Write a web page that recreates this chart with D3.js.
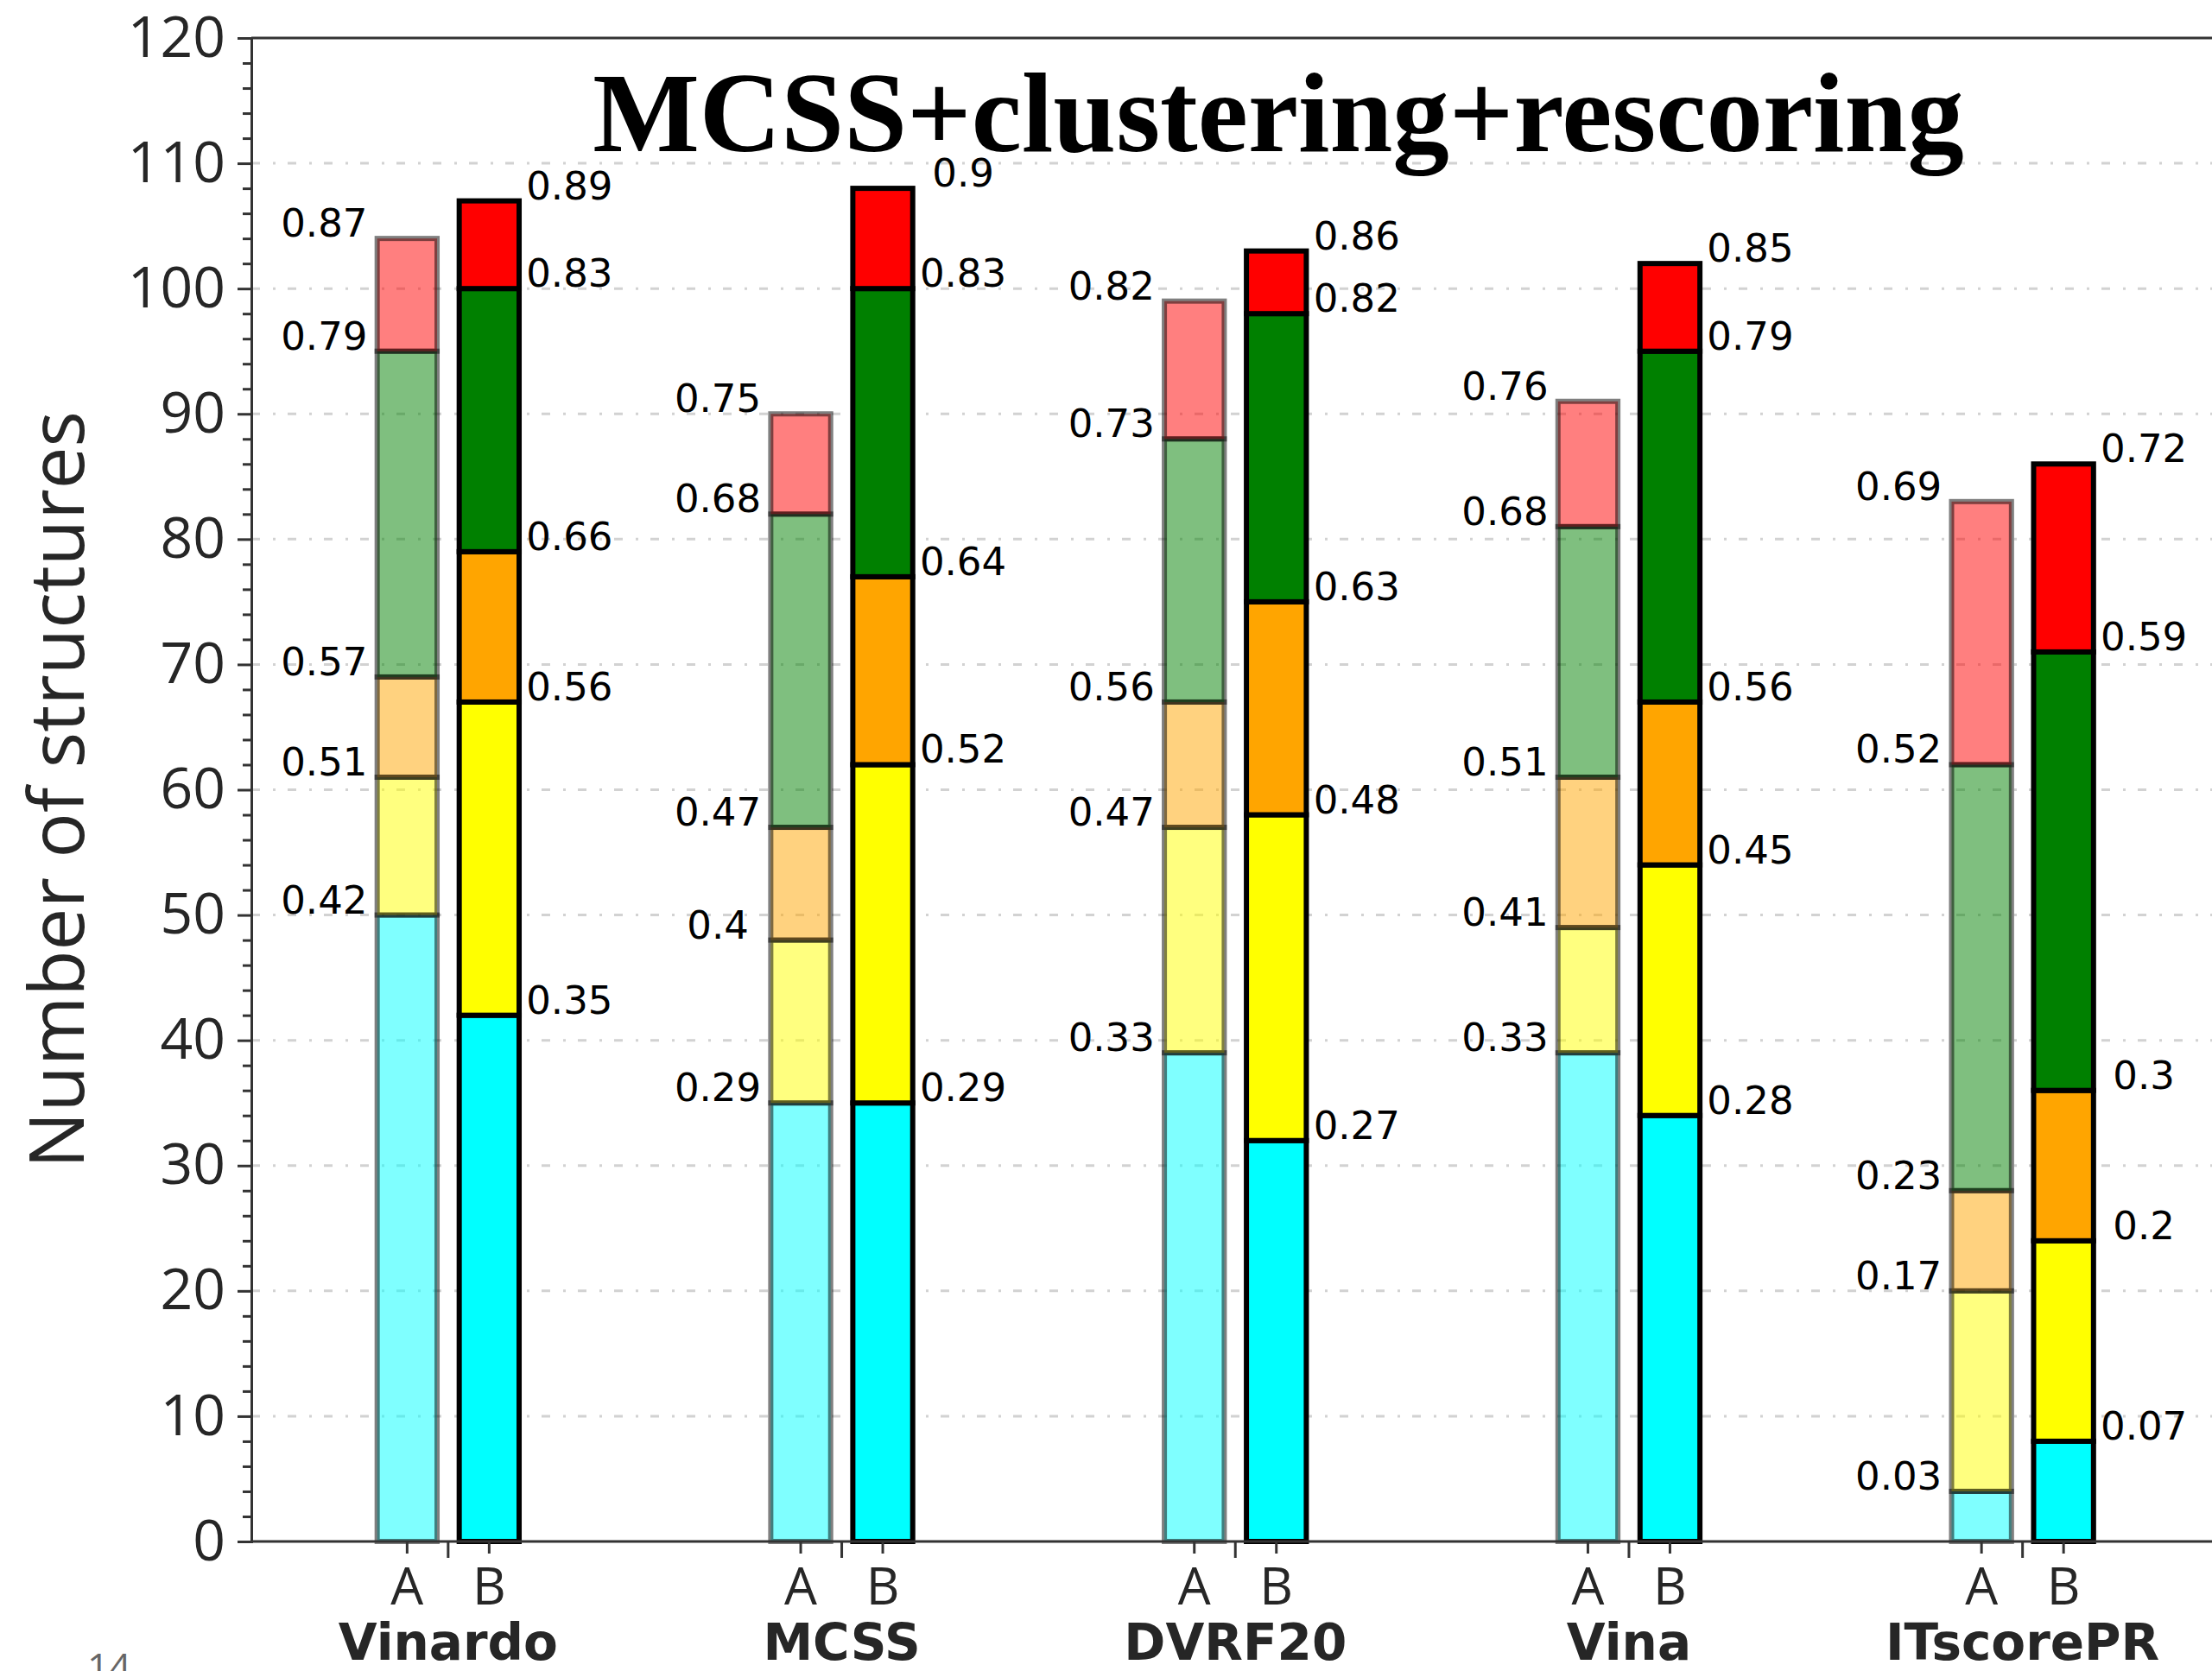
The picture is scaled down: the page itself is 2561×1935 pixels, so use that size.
<!DOCTYPE html>
<html>
<head>
<meta charset="utf-8">
<script src="https://cdn.jsdelivr.net/npm/d3@7"></script>
<style>
  body { margin: 0; background: #fff; }
  svg { display: block; }
</style>
</head>
<body>
<div id="chart"></div>
<script>
// scoring methods and the two variants
var methods = ["Vinardo", "MCSS", "DVRF20", "Vina", "ITscorePR"];
var versions = ["A", "B"];
var bands = ["cyan", "yellow", "orange", "green", "red"];
var totalTargets = 120;

// structures in each band, one value per method
var cyanA   = [50, 35, 39, 39, 4];
var yellowA = [11, 13, 18, 10, 16];
var orangeA = [8, 9, 10, 12, 8];
var greenA  = [26, 25, 21, 20, 34];
var redA    = [9, 8, 11, 10, 21];

var cyanB   = [42, 35, 32, 34, 8];
var yellowB = [25, 27, 26, 20, 16];
var orangeB = [12, 15, 17, 13, 12];
var greenB  = [21, 23, 23, 28, 35];
var redB    = [7, 8, 5, 7, 15];

var yTicks = d3.range(0, 121, 10);
var yMinor = d3.range(0, 121, 2).filter((d) => d % 10 !== 0);

var colors = { cyan: "#00ffff", yellow: "#ffff00", orange: "#ffa500", green: "#008000", red: "#ff0000" };

var width = 2561, height = 1935;
var margin = { left: 291, top: 44 };
var plotH = 1785 - 44;
var plotW = 5 * 455.7;

var svg = d3.select("#chart")
  .append("svg")
    .attr("width", width)
    .attr("height", height)
    .style("background", "#fff");

var g = svg.append("g")
    .attr("transform", "translate(" + margin.left + "," + margin.top + ")");

// build rows: one per bar
var table = [];
methods.forEach((m, i) => {
  table.push({ method: m, version: "A", cyan: cyanA[i], yellow: yellowA[i], orange: orangeA[i], green: greenA[i], red: redA[i] });
  table.push({ method: m, version: "B", cyan: cyanB[i], yellow: yellowB[i], orange: orangeB[i], green: greenB[i], red: redB[i] });
});
var series = d3.stack().keys(bands)(table);

// scales
var x0 = d3.scaleBand()
  .domain(methods)
  .range([0, plotW]);

var x1 = d3.scaleBand()
  .domain(versions)
  .range([-95, 95])
  .paddingInner(0.27)
  .paddingOuter(0.135);

var y = d3.scaleLinear()
  .domain([0, 120])
  .range([plotH, 0]);

function barX(d) { return x0(d.method) + x0.bandwidth() / 2 + x1(d.version); }
function barMid(d) { return barX(d) + x1.bandwidth() / 2; }

// grid lines (dash-dot)
g.append("g")
  .selectAll("line")
  .data(yTicks.filter((d) => d > 0 && d < 120))
  .join("line")
    .attr("x1", 0)
    .attr("x2", plotW)
    .attr("y1", (d) => y(d))
    .attr("y2", (d) => y(d))
    .attr("stroke", "#d2d2d2")
    .attr("stroke-width", 3)
    .attr("stroke-dasharray", "10,15,3,14");

// bars
series.forEach((s) => {
  g.append("g")
    .selectAll("rect")
    .data(s)
    .join("rect")
      .attr("x", (d) => barX(d.data))
      .attr("width", x1.bandwidth())
      .attr("y", (d) => y(d[1]))
      .attr("height", (d) => y(d[0]) - y(d[1]))
      .attr("fill", colors[s.key])
      .attr("fill-opacity", (d) => d.data.version === "A" ? 0.5 : 1)
      .attr("stroke", "#000")
      .attr("stroke-opacity", (d) => d.data.version === "A" ? 0.5 : 1)
      .attr("stroke-width", 6);
});

// value labels at the top of each band
var fmt = d3.format(".2~f");
series.forEach((s) => {
  g.append("g")
    .selectAll("text")
    .data(s)
    .join("text")
      .attr("x", (d) => d.data.version === "A" ? barMid(d.data) - 96 : barMid(d.data) + 93)
      .attr("y", (d) => y(d[1]) - 2)
      .attr("text-anchor", "middle")
      .style("font-family", "'DejaVu Sans', sans-serif")
      .style("font-size", "45px")
      .style("fill", "#000")
      .text((d) => fmt(d[1] / totalTargets));
});

// spines
g.append("line")
  .attr("x1", 0).attr("x2", plotW)
  .attr("y1", 0).attr("y2", 0)
  .attr("stroke", "#333").attr("stroke-width", 3);
g.append("line")
  .attr("x1", 0).attr("x2", plotW)
  .attr("y1", plotH).attr("y2", plotH)
  .attr("stroke", "#333").attr("stroke-width", 3);

// Y axis: major ticks with labels, minor ticks
var yAxis = g.append("g")
  .call(d3.axisLeft(y)
    .tickValues(yTicks)
    .tickSize(16)
    .tickPadding(14));
yAxis.select(".domain").attr("stroke", "#333").attr("stroke-width", 3);
yAxis.selectAll(".tick line").attr("stroke", "#333").attr("stroke-width", 3);
yAxis.selectAll(".tick text")
  .style("font-family", "'Open Sans', sans-serif")
  .style("font-size", "66px")
  .style("fill", "#262626");

var yAxisMinor = g.append("g")
  .call(d3.axisLeft(y)
    .tickValues(yMinor)
    .tickSize(10)
    .tickFormat(""));
yAxisMinor.select(".domain").remove();
yAxisMinor.selectAll(".tick line").attr("stroke", "#333").attr("stroke-width", 3);

// X ticks: one per bar, plus a separator between A and B
g.append("g")
  .selectAll("line")
  .data(table)
  .join("line")
    .attr("x1", (d) => barMid(d))
    .attr("x2", (d) => barMid(d))
    .attr("y1", plotH)
    .attr("y2", plotH + 14)
    .attr("stroke", "#333")
    .attr("stroke-width", 3);

g.append("g")
  .selectAll("line")
  .data(methods)
  .join("line")
    .attr("x1", (d) => x0(d) + x0.bandwidth() / 2)
    .attr("x2", (d) => x0(d) + x0.bandwidth() / 2)
    .attr("y1", plotH)
    .attr("y2", plotH + 19)
    .attr("stroke", "#333")
    .attr("stroke-width", 3);

g.append("g")
  .selectAll("text")
  .data(table)
  .join("text")
    .attr("x", (d) => barMid(d))
    .attr("y", plotH + 73)
    .attr("text-anchor", "middle")
    .style("font-family", "'Open Sans', sans-serif")
    .style("font-size", "60px")
    .style("fill", "#262626")
    .text((d) => d.version);

g.append("g")
  .selectAll("text")
  .data(methods)
  .join("text")
    .attr("x", (d) => x0(d) + x0.bandwidth() / 2)
    .attr("y", plotH + 137)
    .attr("text-anchor", "middle")
    .style("font-family", "'DejaVu Sans', sans-serif")
    .style("font-weight", "bold")
    .style("font-size", "58px")
    .style("fill", "#262626")
    .text((d) => d);

// Y axis title
svg.append("text")
  .attr("transform", "translate(97," + (margin.top + y(60)) + ") rotate(-90)")
  .attr("text-anchor", "middle")
  .style("font-family", "'Open Sans', sans-serif")
  .style("font-size", "87px")
  .style("fill", "#262626")
  .text("Number of structures");

// chart title
svg.append("text")
  .attr("x", 1480)
  .attr("y", 175)
  .attr("text-anchor", "middle")
  .style("font-family", "'Liberation Serif', serif")
  .style("font-weight", "bold")
  .style("font-size", "131px")
  .style("fill", "#000")
  .text("MCSS+clustering+rescoring");

// page number, cut off at the bottom
svg.append("text")
  .attr("x", 101)
  .attr("y", 1946)
  .style("font-family", "'Open Sans', sans-serif")
  .style("font-size", "44px")
  .style("fill", "#666")
  .text("14");
</script>
</body>
</html>
